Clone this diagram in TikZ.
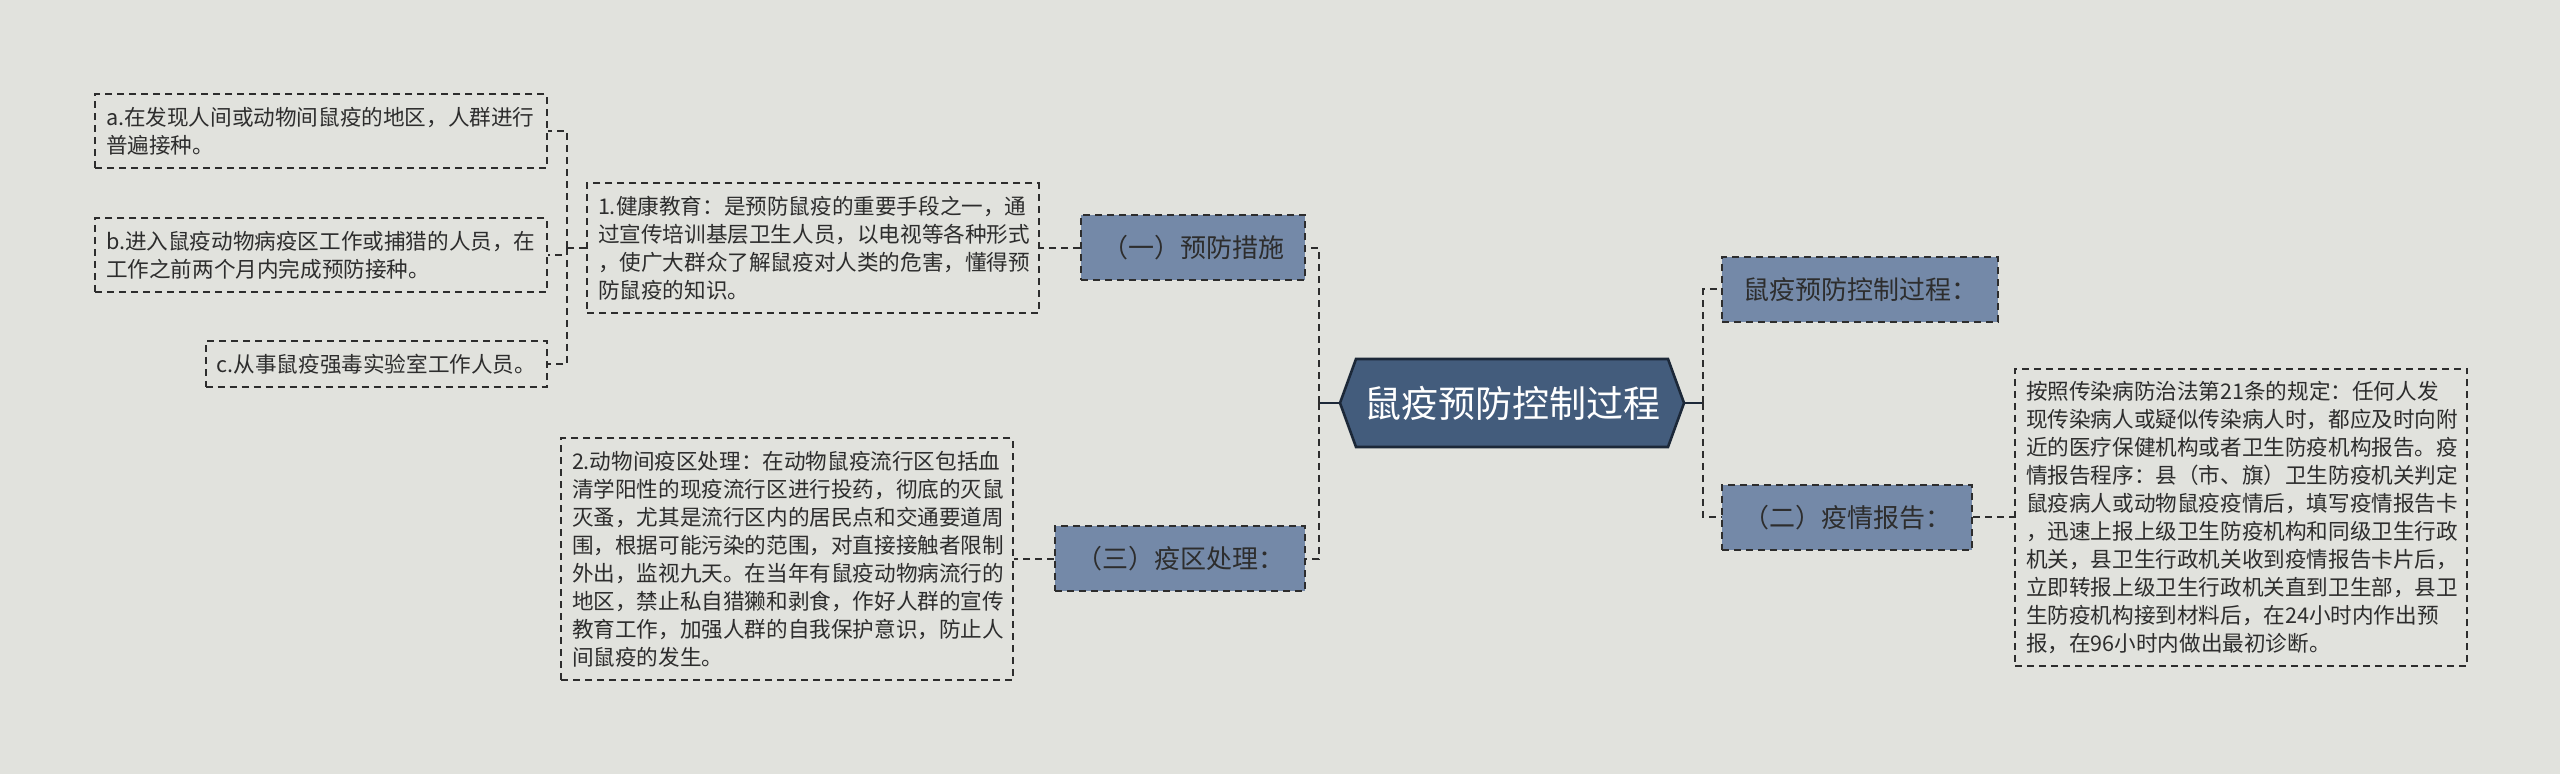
\documentclass[tikz,border=0pt]{standalone}
\usepackage{fontspec}
\usepackage{xcolor}
\usepackage{tikz}
\usetikzlibrary{positioning,shapes.symbols,calc}
\newfontfamily\cjk{Noto Sans CJK SC}
\definecolor{pagegray}{RGB}{225,226,221}
\definecolor{rootblue}{RGB}{67,92,124}
\definecolor{rootedge}{RGB}{28,40,56}
\definecolor{branchblue}{RGB}{116,137,168}
\definecolor{inkgray}{RGB}{45,45,45}

\begin{document}
\begin{tikzpicture}[
      x=1pt, y=-1pt,
      root/.style={signal, signal to=west and east, signal pointer angle=140,
                   fill=rootblue, draw=rootedge, line width=1.3pt,
                   text=white, font=\cjk\fontsize{18.5}{22}\selectfont,
                   minimum width=167pt, minimum height=44pt, inner xsep=4pt},
      branch/.style={fill=branchblue, draw=inkgray, dashed, line width=1pt,
                     dash pattern=on 3.5pt off 2.5pt, text=inkgray,
                     font=\cjk\fontsize{13}{16}\selectfont,
                     inner xsep=10.5pt, minimum height=32.5pt},
      memo/.style={draw=inkgray, line width=1pt, dash pattern=on 3.5pt off 2.5pt,
                   text=inkgray, align=left, inner xsep=5.5pt, inner ysep=6.3pt,
                   font=\cjk\fontsize{10.8}{14}\selectfont},
      wide/.style={memo, text width=215pt},
      link/.style={draw=inkgray, line width=1pt, dash pattern=on 3.5pt off 2.5pt},
      stem/.style={draw=rootedge, line width=1.2pt}
    ]
    \useasboundingbox[fill=pagegray] (0,0) rectangle (1280,387);

    \node[root] (root) at (756,201.5) {鼠疫预防控制过程};

    % left side
    \node[branch, anchor=east] (prev) at (653,124) {（一）预防措施};
    \node[branch, anchor=east] (zone) at (653,279.5) {（三）疫区处理：};
    \node[wide, left=20pt of prev] (edu) {1.健康教育：是预防鼠疫的重要手段之一，通\\
      过宣传培训基层卫生人员，以电视等各种形式\\
      ，使广大群众了解鼠疫对人类的危害，懂得预\\
      防鼠疫的知识。};
    \node[wide, left=20pt of zone] (quar) {2.动物间疫区处理：在动物鼠疫流行区包括血\\
      清学阳性的现疫流行区进行投药，彻底的灭鼠\\
      灭蚤，尤其是流行区内的居民点和交通要道周\\
      围，根据可能污染的范围，对直接接触者限制\\
      外出，监视九天。在当年有鼠疫动物病流行的\\
      地区，禁止私自猎獭和剥食，作好人群的宣传\\
      教育工作，加强人群的自我保护意识，防止人\\
      间鼠疫的发生。};
    \node[wide, anchor=east] (va) at (274,65.5) {a.在发现人间或动物间鼠疫的地区，人群进行\\
      普遍接种。};
    \node[wide, anchor=east] (vb) at (274,127.5) {b.进入鼠疫动物病疫区工作或捕猎的人员，在\\
      工作之前两个月内完成预防接种。};
    \node[memo, anchor=east] (vc) at (274,182) {c.从事鼠疫强毒实验室工作人员。};

    % right side
    \node[branch, anchor=west] (proc) at (860.5,144.75) {鼠疫预防控制过程：};
    \node[branch, anchor=west] (rep) at (860.5,258.75) {（二）疫情报告：};
    \node[wide, right=20.5pt of rep] (law) {按照传染病防治法第21条的规定：任何人发\\
      现传染病人或疑似传染病人时，都应及时向附\\
      近的医疗保健机构或者卫生防疫机构报告。疫\\
      情报告程序：县（市、旗）卫生防疫机关判定\\
      鼠疫病人或动物鼠疫疫情后，填写疫情报告卡\\
      ，迅速上报上级卫生防疫机构和同级卫生行政\\
      机关，县卫生行政机关收到疫情报告卡片后，\\
      立即转报上级卫生行政机关直到卫生部，县卫\\
      生防疫机构接到材料后，在24小时内作出预\\
      报，在96小时内做出最初诊断。};

    % connectors
    \draw[stem] (root.west) -- ++(-10,0) coordinate (lj);
    \draw[stem] (root.east) -- ++(9,0) coordinate (rj);
    \draw[link] (lj) |- (prev.east);
    \draw[link] (lj) |- (zone.east);
    \draw[link] (rj) |- (proc.west);
    \draw[link] (rj) |- (rep.west);
    \draw[link] (prev.west) -- (edu.east);
    \draw[link] (zone.west) -- (quar.east);
    \draw[link] (rep.east) -- (law.west);
    \draw[link] (edu.west) -- ++(-9.5,0) coordinate (ej);
    \draw[link] (ej) |- (va.east);
    \draw[link] (ej) |- (vb.east);
    \draw[link] (ej) |- (vc.east);
  \end{tikzpicture}
\end{document}
